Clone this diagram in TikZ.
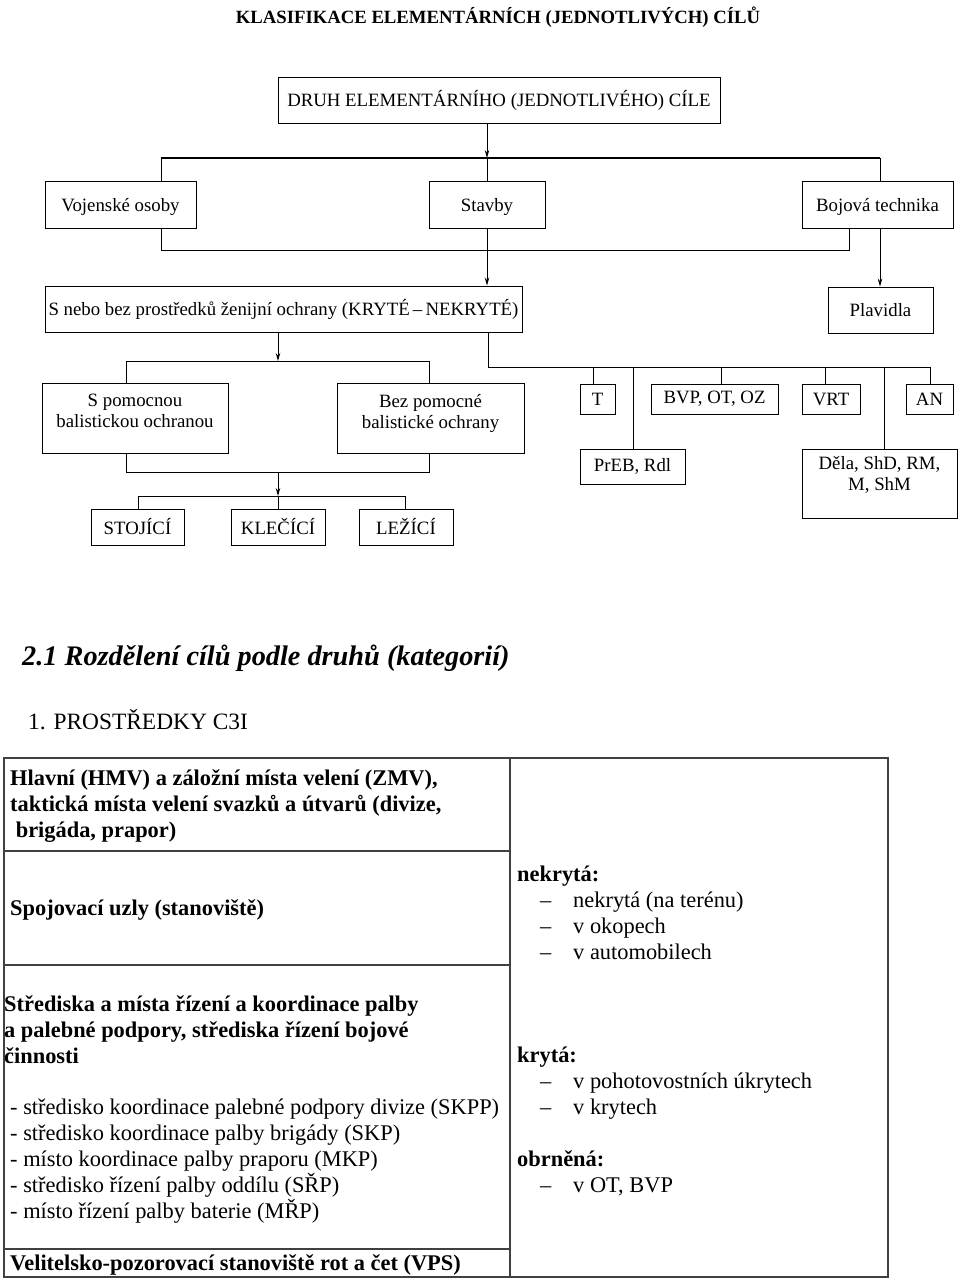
\documentclass[tikz,border=0pt]{standalone}
\usepackage{fontspec}
\setmainfont{Liberation Serif}
\usetikzlibrary{arrows.meta}
\begin{document}
\begin{tikzpicture}[x=1pt,y=-1pt,
  box/.style={draw, line width=0.9pt, inner sep=0pt, align=center, font=\fontsize{18.8}{21}\selectfont},
  lowtext/.style={text height=16pt, text depth=3pt},
  link/.style={line width=0.9pt},
  arr/.style={line width=0.9pt, -{Stealth[length=8pt,width=4.5pt]}},
  tline/.style={line width=1.2pt, black!75},
  tb/.style={anchor=base west, inner sep=0pt, align=left, font=\fontsize{22.4}{26}\selectfont},
]
\useasboundingbox (0,0) rectangle (960,1280);

% ---------- chart ----------
\node[anchor=base, inner sep=0pt, font=\fontsize{18.7}{20}\selectfont\bfseries] (title) at (498,23) {KLASIFIKACE ELEMENTÁRNÍCH (JEDNOTLIVÝCH) CÍLŮ};

\node[box, minimum width=442, minimum height=46] (druh) at (499,100) {DRUH ELEMENTÁRNÍHO (JEDNOTLIVÉHO) CÍLE};
\node[box, lowtext, minimum width=151, minimum height=47] (voj) at (120.5,204.5) {Vojenské osoby};
\node[box, lowtext, minimum width=116, minimum height=47] (stav) at (487,204.5) {Stavby};
\node[box, lowtext, minimum width=151, minimum height=47] (boj) at (877.5,204.5) {Bojová technika};
\node[box, minimum width=477, minimum height=46] (snb) at (283.5,309) {S nebo bez prostředků ženijní ochrany (KRYTÉ\,–\,NEKRYTÉ)};
\node[box, minimum width=105, minimum height=46] (plav) at (880.5,310) {Plavidla};
\node[box, minimum width=186, minimum height=70] (spom) at (135,418) {S pomocnou\\balistickou ochranou\rule[-14pt]{0pt}{0pt}};
\node[box, minimum width=187, minimum height=70] (bez) at (430.5,418) {Bez pomocné\\balistické ochrany\rule[-14pt]{0pt}{0pt}};
\node[box, minimum width=93, minimum height=36] (stoj) at (137.5,527) {STOJÍCÍ};
\node[box, minimum width=94, minimum height=36] (klec) at (278,527) {KLEČÍCÍ};
\node[box, minimum width=94, minimum height=36] (lez) at (406,527) {LEŽÍCÍ};
\node[box, minimum width=35, minimum height=30] (t) at (597.5,399) {T};
\node[box, minimum width=127, minimum height=30] (bvp) at (714.5,399) {BVP, OT, OZ};
\node[box, minimum width=58, minimum height=30] (vrt) at (831,399) {VRT};
\node[box, minimum width=47, minimum height=30] (an) at (929.5,399) {AN};
\node[box, minimum width=105, minimum height=35] (preb) at (632.5,466.5) {PrEB, Rdl};
\node[box, minimum width=155, minimum height=69] (dela) at (879.5,483.5) {Děla, ShD, RM,\\M, ShM\rule[-20pt]{0pt}{0pt}};

% level 1
\coordinate (bL) at (161,158);
\coordinate (bR) at (880,158);
\draw[link, line width=1.6pt] (bL) -- (bR);
\draw[arr] (druh.south -| stav.north) -- (stav.north |- bL);
\draw[link] (bL) -- (bL |- voj.north);
\draw[link] (stav.north |- bL) -- (stav.north);
\draw[link] (bR) -- (bR |- boj.north);

% level 2
\coordinate (c2) at (849,250);
\draw[link] (voj.south -| bL) |- (c2) -- (c2 |- boj.south);
\draw[arr] (stav.south) -- (stav.south |- snb.north);
\draw[arr] (boj.south -| bR) -- (plav.north -| bR);

% level 3 left
\coordinate (c3) at (278,361);
\coordinate (c3l) at (126,361);
\coordinate (c3r) at (429,361);
\draw[arr] (snb.south -| c3) -- (c3);
\draw[link] (spom.north -| c3l) |- (c3r) -- (bez.north -| c3r);
\coordinate (c4l) at (126,472);
\coordinate (c4r) at (429,472);
\draw[link] (spom.south -| c4l) |- (c4r) -- (bez.south -| c4r);
\coordinate (c5) at (138,496);
\coordinate (c5r) at (405,496);
\draw[arr] (klec.north |- c4l) -- (klec.north |- c5);
\draw[link] (klec.north |- c5) -- (klec.north);
\draw[link] (stoj.north -| c5) |- (c5r) -- (lez.north -| c5r);

% level 3 right
\coordinate (d) at (488,367);
\coordinate (dA) at (930,367);
\coordinate (dT) at (593,367);
\coordinate (dP) at (633,367);
\coordinate (dB) at (721,367);
\coordinate (dV) at (825,367);
\coordinate (dD) at (884,367);
\draw[link] (snb.south -| d) -- (d) -- (dA) -- (dA |- an.north);
\draw[link] (dT) -- (dT |- t.north);
\draw[link] (dP) -- (dP |- preb.north);
\draw[link] (dB) -- (dB |- bvp.north);
\draw[link] (dV) -- (dV |- vrt.north);
\draw[link] (dD) -- (dD |- dela.north);

% ---------- lower part ----------
\node[anchor=base west, inner sep=0pt, font=\fontsize{28.3}{32}\selectfont\bfseries\itshape] (h21) at (22,665) {2.1 Rozdělení cílů podle druhů (kategorií)};
\node[anchor=base west, inner sep=0pt, font=\fontsize{23.4}{28}\selectfont] (h1) at (28,729) {1. PROSTŘEDKY C3I};

% table
\draw[tline] (4,758) rectangle (888,1277);
\draw[tline] (510,758) -- (510,1277);
\draw[tline] (4,851) -- (510,851);
\draw[tline] (4,965) -- (510,965);
\draw[tline] (4,1249) -- (510,1249);

% (base anchor of a multi-line node = baseline of its last line)
\node[tb, font=\fontsize{22.4}{26}\selectfont\bfseries] (r1) at (10,837) {Hlavní (HMV) a záložní místa velení (ZMV),\\taktická místa velení svazků a útvarů (divize,\\\ brigáda, prapor)};
\node[tb, font=\fontsize{22.4}{26}\selectfont\bfseries] (r2) at (10,915) {Spojovací uzly (stanoviště)};
\node[tb, font=\fontsize{22.4}{26}\selectfont\bfseries] (r3) at (4,1063) {Střediska a místa řízení a koordinace palby\\a palebné podpory, střediska řízení bojové\\činnosti};
\node[tb] (r3i) at (10,1218) {- středisko koordinace palebné podpory divize (SKPP)\\- středisko koordinace palby brigády (SKP)\\- místo koordinace palby praporu (MKP)\\- středisko řízení palby oddílu (SŘP)\\- místo řízení palby baterie (MŘP)};
\node[tb, font=\fontsize{22.4}{26}\selectfont\bfseries] (r4) at (10,1270) {Velitelsko-pozorovací stanoviště rot a čet (VPS)};

\newcommand{\itm}[1]{\hbox to 56pt{\hskip23pt–\hfil}#1}
\node[tb] (nek) at (517,959) {\textbf{nekrytá:}\\\itm{nekrytá (na terénu)}\\\itm{v okopech}\\\itm{v automobilech}};
\node[tb] (kry) at (517,1114) {\textbf{krytá:}\\\itm{v pohotovostních úkrytech}\\\itm{v krytech}};
\node[tb] (obr) at (517,1192) {\textbf{obrněná:}\\\itm{v OT, BVP}};
\end{tikzpicture}
\end{document}
